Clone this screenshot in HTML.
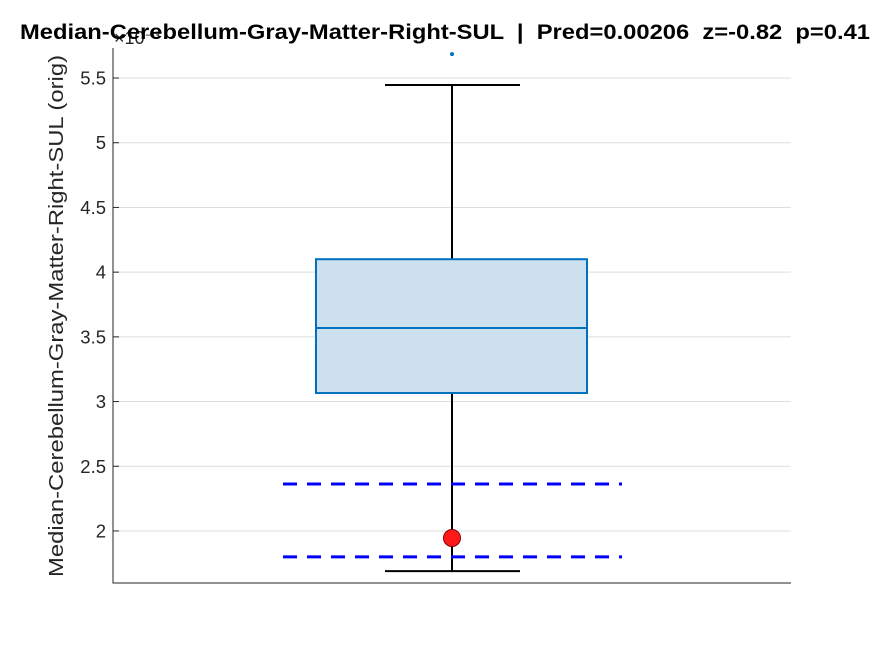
<!DOCTYPE html>
<html><head><meta charset="utf-8"><style>
body{margin:0;background:#fff;width:875px;height:656px;overflow:hidden}
svg{font-family:"Liberation Sans","DejaVu Sans",sans-serif}
</style></head><body>
<svg id="chart" width="875" height="656" viewBox="0 0 875 656"></svg>
<script>
const yTicks=[2,2.5,3,3.5,4,4.5,5,5.5];
const tickLabels=["2","2.5","3","3.5","4","4.5","5","5.5"];
const boxStats=[1.69,3.066,3.568,4.10,5.446];
const outliers=[5.685];
const predValue=[1.946];
const refLines=[2.363,1.80];
const ns="http://www.w3.org/2000/svg";
const svg=document.getElementById('chart');
const L=113,R=791,T=48,B=583,vMin=1.598,vMax=5.732;
function y(v){return B-(v-vMin)/(vMax-vMin)*(B-T);}
const cx=452;
function mk(t,a){const e=document.createElementNS(ns,t);for(const k in a)e.setAttribute(k,a[k]);svg.appendChild(e);return e;}
yTicks.forEach((v,i)=>{
 const g=mk('line',{x1:L,x2:R,y1:y(v),y2:y(v),stroke:'#dedede','stroke-width':1});
 
 
 const tk=mk('line',{x1:L,x2:L+6,y1:y(v),y2:y(v),stroke:'#262626'});
 
 
 const t=mk('text',{x:L-7,y:y(v)+6.5,'text-anchor':'end','font-size':18.5,fill:'#262626'});
 t.textContent=tickLabels[i];
 
 
});
const ax=mk('path',{d:`M${L},${T}V${B}H${R}`,fill:'none',stroke:'#262626','stroke-width':1});


const [lo,q1,med,q3,hi]=boxStats;
const w1=mk('line',{x1:cx,x2:cx,y1:y(q3),y2:y(hi),stroke:'#000','stroke-width':2});


const w2=mk('line',{x1:cx,x2:cx,y1:y(q1),y2:y(lo),stroke:'#000','stroke-width':2});


[hi,lo].forEach(v=>{const c=mk('line',{x1:385,x2:520,y1:y(v),y2:y(v),stroke:'#000','stroke-width':2});
 
 });
const bx=mk('rect',{x:316,y:y(q3),width:271,height:y(q1)-y(q3),fill:'#cce0f0',stroke:'#0072bd','stroke-width':2});


const md=mk('line',{x1:316,x2:587,y1:y(med),y2:y(med),stroke:'#0072bd','stroke-width':2});


outliers.forEach(v=>{const o=mk('circle',{cx:cx,cy:y(v),r:2,fill:'#0072bd'});
 
 });
refLines.forEach(v=>{const d=mk('line',{x1:283,x2:622,y1:y(v),y2:y(v),stroke:'#0000ff','stroke-width':3,'stroke-dasharray':'14,10'});
 
 });
predValue.forEach(v=>{const p=mk('circle',{cx:cx,cy:y(v),r:8.5,fill:'#ff1a1a',stroke:'#800000','stroke-width':1});
 
 });
const yl=mk('text',{x:0,y:0,transform:'translate(63,316) rotate(-90)','text-anchor':'middle','font-size':20,fill:'#262626',textLength:522,lengthAdjust:'spacingAndGlyphs'});
yl.textContent='Median-Cerebellum-Gray-Matter-Right-SUL (orig)';


const ex=mk('text',{x:114,y:44,'font-size':18,fill:'#262626'});
ex.textContent='×10⁻³';


const ti=mk('text',{x:445,y:39,'text-anchor':'middle','font-size':21,'font-weight':'bold',fill:'#000',textLength:850,lengthAdjust:'spacingAndGlyphs'});
ti.textContent='Median-Cerebellum-Gray-Matter-Right-SUL  |  Pred=0.00206  z=-0.82  p=0.41';
ti.style.whiteSpace='pre';


</script>
</body></html>
